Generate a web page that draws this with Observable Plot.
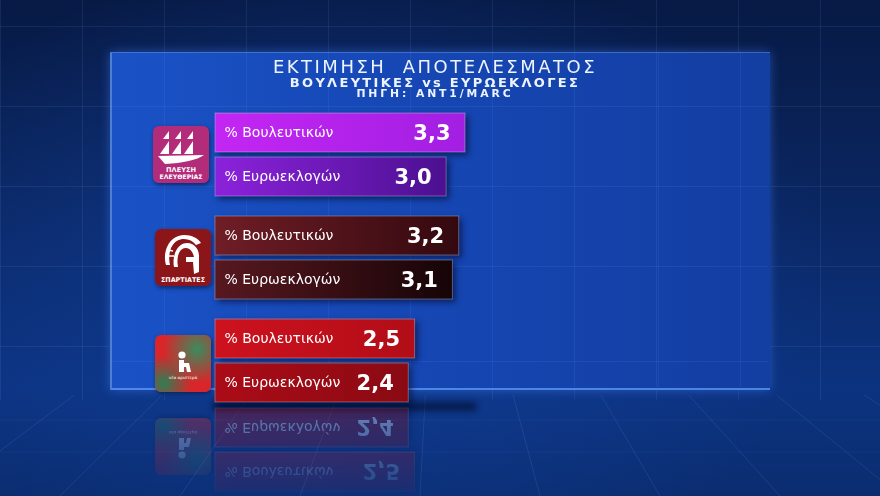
<!DOCTYPE html>
<html><head><meta charset="utf-8">
<script src="https://cdn.jsdelivr.net/npm/d3@7"></script>
<script src="https://cdn.jsdelivr.net/npm/@observablehq/plot@0.6"></script>
<style>
html,body{margin:0;padding:0;background:#071a44;}
#stage{position:relative;width:880px;height:496px;overflow:hidden;font-family:"DejaVu Sans",sans-serif;
 background:
  radial-gradient(ellipse 55% 65% at 40% 55%, rgba(20,70,170,0.55) 0%, rgba(20,70,170,0) 100%),
  linear-gradient(180deg,#071a45 0%,#0a245c 35%,#0c3380 78%,#0b2d70 100%);}
.grid{position:absolute;left:0;top:0;width:880px;height:400px;
 background-image:
  repeating-linear-gradient(90deg, rgba(130,180,255,0.10) 0 1px, transparent 1px 82px),
  repeating-linear-gradient(180deg, transparent 0 26px, rgba(130,180,255,0.10) 26px 27px, transparent 27px 80px);}
#panel{position:absolute;left:110px;top:52px;width:658px;height:335px;
 background:linear-gradient(90deg,#1a52c6 0%,#1647b4 45%,#133ea2 100%);
 box-shadow:0 0 10px rgba(70,130,255,0.45);
 border-left:2px solid rgba(130,180,255,0.55);border-top:1px solid rgba(130,180,255,0.35);border-bottom:2px solid rgba(90,150,245,0.8);}
.content{position:absolute;left:0;top:0;width:880px;height:496px;}
.t{position:absolute;left:0;width:870px;text-align:center;color:#eef4ff;white-space:pre;}
.logo{position:absolute;width:56px;height:57px;border-radius:6px;overflow:hidden;box-shadow:1px 2px 4px rgba(0,0,30,.5);}
#refl{position:absolute;left:0;top:405px;width:880px;height:91px;overflow:hidden;opacity:.45;
 -webkit-mask-image:linear-gradient(180deg,rgba(0,0,0,.85),rgba(0,0,0,.15));mask-image:linear-gradient(180deg,rgba(0,0,0,.85),rgba(0,0,0,.15));}
#shadow{position:absolute;left:212px;top:402px;width:265px;height:9px;background:rgba(0,5,30,.55);filter:blur(3px);border-radius:4px;}
</style></head>
<body>
<div id="stage">
  <svg id="floor" width="880" height="496" style="position:absolute;left:0;top:0"></svg>
  <div class="grid"></div>
  <div id="panel"></div>
  <div class="grid" style="left:110px;top:52px;width:658px;height:335px;background-position:-110px -52px;opacity:.9"></div>
  <div id="shadow"></div>
  <div id="refl"></div>
  <div id="content" class="content"></div>
  <div class="t" style="top:58px;font-size:18px;line-height:18px;letter-spacing:2.5px;">ΕΚΤΙΜΗΣΗ  ΑΠΟΤΕΛΕΣΜΑΤΟΣ</div>
  <div class="t" style="top:77px;font-size:13px;line-height:11px;letter-spacing:2.3px;font-weight:bold;">ΒΟΥΛΕΥΤΙΚΕΣ vs ΕΥΡΩΕΚΛΟΓΕΣ</div>
  <div class="t" style="top:88.5px;font-size:10.8px;line-height:10px;letter-spacing:2.9px;font-weight:bold;">ΠΗΓΗ: ΑΝΤ1/MARC</div>
</div>
<script>
// ---- data ----
const parties = ["ΠΛΕΥΣΗ ΕΛΕΥΘΕΡΙΑΣ", "ΣΠΑΡΤΙΑΤΕΣ", "ΝΕΑ ΑΡΙΣΤΕΡΑ"];
const types = ["% Βουλευτικών", "% Ευρωεκλογών"];
const vouleftikes = [3.3, 3.2, 2.5];
const evroekloges = [3.0, 3.1, 2.4];

// ---- styles ----
const gradStops = [
  [["#c426f3", "#a21fe2"], ["#8c22dc", "#4b1090"]],
  [["#701d26", "#33090f"], ["#581820", "#160407"]],
  [["#cd121e", "#b20d18"], ["#ab0c17", "#8a0a13"]]
];

const data = parties.flatMap((p, i) => [
  {party: p, type: types[0], value: vouleftikes[i], key: `g${i}0`},
  {party: p, type: types[1], value: evroekloges[i], key: `g${i}1`}
]);

const fmt = v => v.toFixed(1).replace(".", ",");

const chart = Plot.plot({
  width: 880, height: 496,
  marginTop: 102, marginBottom: 83, marginLeft: 0, marginRight: 0,
  style: {background: "transparent", overflow: "visible", fontFamily: "DejaVu Sans, sans-serif"},
  x: {domain: [0, 3.3], range: [257, 465], axis: null},
  y: {domain: types, paddingInner: 0.11, paddingOuter: 0.225, axis: null},
  fy: {domain: parties, padding: 0, axis: null},
  color: {type: "identity"},
  marks: [
    Plot.barX(data, {x: "value", y: "type", fy: "party", fill: d => `url(#${d.key})`,
      insetLeft: -42, stroke: "rgba(255,255,255,0.30)", strokeWidth: 1}),
    Plot.text(data, {x: 0, y: "type", fy: "party", text: "type", dx: -33, textAnchor: "start",
      fill: "white", fontSize: 14}),
    Plot.text(data, {x: "value", y: "type", fy: "party", text: d => fmt(d.value), dx: -15,
      textAnchor: "end", fill: "white", fontSize: 21, fontWeight: "bold"})
  ]
});

const svg = d3.select(chart);
const defs = svg.insert("defs", ":first-child");
gradStops.forEach((g, i) => g.forEach((c, j) => {
  const lg = defs.append("linearGradient").attr("id", `g${i}${j}`).attr("x1", 0).attr("x2", 1).attr("y1", 0).attr("y2", 0);
  lg.append("stop").attr("offset", "0%").attr("stop-color", c[0]);
  lg.append("stop").attr("offset", "100%").attr("stop-color", c[1]);
}));
svg.selectAll("g[aria-label='bar']").style("filter", "drop-shadow(3px 3px 3px rgba(0,0,30,0.55))");
svg.style("position", "absolute").style("left", "0px").style("top", "0px");

const content = document.getElementById("content");
content.appendChild(chart);

// ---- logos, positioned from the facet scale ----
let fyScale;
try { fyScale = chart.scale("fy"); } catch (e) { fyScale = null; }
const fyCenter = p => {
  if (fyScale && fyScale.apply) return fyScale.apply(p) + (fyScale.bandwidth || 0) / 2;
  const b = d3.scaleBand().domain(parties).range([102, 413]).padding(0);
  return b(p) + b.bandwidth() / 2;
};
const logoSvgs = [
  `<svg width="56" height="57" viewBox="0 0 56 57"><rect width="56" height="57" fill="#b22c7a"/>
   <g fill="white">
    <path d="M16 5 L16 13 L10 13 Z"/><path d="M16 15 L16 28 L7 28 Z"/>
    <path d="M28 5 L28 13 L22 13 Z"/><path d="M28 15 L28 28 L19 28 Z"/>
    <path d="M40 5 L40 13 L34 13 Z"/><path d="M40 15 L40 28 L31 28 Z"/>
    <path d="M5 30 L51 29 C44 34 30 37 12 38 Z"/>
   </g>
   <text x="28" y="46" text-anchor="middle" fill="white" font-size="6.6" font-weight="bold" font-family="DejaVu Sans">ΠΛΕΥΣΗ</text>
   <text x="28" y="53" text-anchor="middle" fill="white" font-size="6.2" font-weight="bold" font-family="DejaVu Sans">ΕΛΕΥΘΕΡΙΑΣ</text></svg>`,
  `<svg width="56" height="57" viewBox="0 0 56 57"><rect width="56" height="57" fill="#8c151a"/>
   <g fill="white">
    <path d="M11 36 C7 20 16 6 29 6 C37 6 43 9 46 14 L41 16 C38 12 34 10 29 10 C19 10 12 20 15 36 Z"/>
    <path d="M14 27 L19 27 M13 21 L18 22" stroke="white" stroke-width="1.5"/>
    <path d="M19 38 C17 25 23 14 32 14 C40 14 45 21 44 30 L44 43 L39 45 L38 33 L31 33 L31 28 L39 28 C38 23 35 19 31 19 C25 19 21 26 23 38 Z"/>
   </g>
   <text x="28" y="53" text-anchor="middle" fill="white" font-size="6.4" font-weight="bold" font-family="DejaVu Sans">ΣΠΑΡΤΙΑΤΕΣ</text></svg>`,
  `<svg width="56" height="57" viewBox="0 0 56 57"><defs>
    <radialGradient id="na1" cx="0.75" cy="0.25" r="0.6"><stop offset="0" stop-color="#3a8c5e"/><stop offset="1" stop-color="#3a8c5e" stop-opacity="0"/></radialGradient>
    <radialGradient id="na2" cx="0.15" cy="0.85" r="0.5"><stop offset="0" stop-color="#2f7e55"/><stop offset="1" stop-color="#2f7e55" stop-opacity="0"/></radialGradient></defs>
   <rect width="56" height="57" fill="#d8262a"/><rect width="56" height="57" fill="url(#na1)"/><rect width="56" height="57" fill="url(#na2)"/>
   <g fill="white"><circle cx="27" cy="20" r="3.6"/><rect x="24" y="25" width="5" height="12"/>
    <path d="M29 28 L34 28 L36 37 L32 37 L31 32 L29 32 Z"/></g>
   <text x="28" y="44" text-anchor="middle" fill="white" font-size="4.2" font-family="DejaVu Sans">νέα αριστερά</text></svg>`
];
parties.forEach((p, i) => {
  const d = document.createElement("div");
  d.className = "logo";
  d.style.left = (i === 0 ? 153 : 155) + "px";
  d.style.top = (fyCenter(p) - 28.5 + (i === 2 ? 3 : 0)) + "px";
  d.innerHTML = logoSvgs[i];
  content.appendChild(d);
});

// ---- reflection ----
const refl = document.getElementById("refl");
const clone = content.cloneNode(true);
clone.removeAttribute("id");
clone.style.position = "absolute";
clone.style.left = "0px";
clone.style.top = "-91px";
clone.style.width = "880px";
clone.style.height = "496px";
clone.style.transform = "scaleY(-1)";
clone.style.transformOrigin = "50% 50%";
refl.appendChild(clone);

// ---- floor perspective lines (decoration) ----
const floor = d3.select("#floor");
const vx = 440, vy = 120;
for (let x0 = -900; x0 <= 1800; x0 += 120) {
  const t = (395 - vy) / (496 - vy);
  floor.append("line")
    .attr("x1", vx + (x0 - vx) * t).attr("y1", 395)
    .attr("x2", x0).attr("y2", 496)
    .attr("stroke", "rgba(130,180,255,0.13)").attr("stroke-width", 1);
}
[420, 452].forEach(y => floor.append("line").attr("x1", 0).attr("x2", 880).attr("y1", y).attr("y2", y)
  .attr("stroke", "rgba(130,180,255,0.06)"));
</script>
</body></html>
